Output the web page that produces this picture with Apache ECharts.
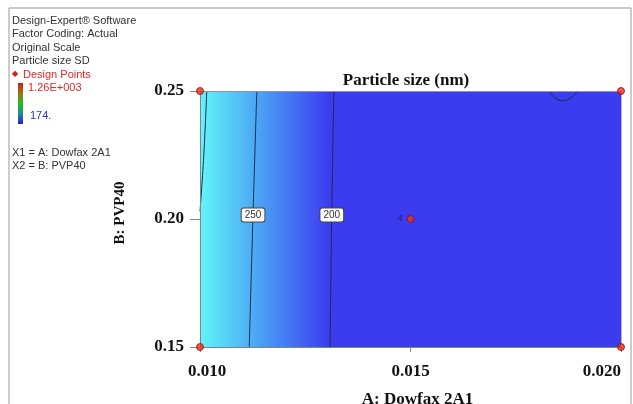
<!DOCTYPE html>
<html><head><meta charset="utf-8">
<script src="https://cdn.jsdelivr.net/npm/echarts@6/dist/echarts.min.js"></script>
<style>html,body{margin:0;padding:0;background:#fff}#c{width:633px;height:404px}</style>
</head><body><div id="c"></div>
<script>
// ---- data ----
const aTicks = [0.010, 0.015, 0.020];
const bTicks = [0.15, 0.20, 0.25];
const designPoints = [[0.010, 0.15], [0.010, 0.25], [0.020, 0.15], [0.020, 0.25], [0.015, 0.20]];
const centerReplicates = '4';
// response surface samples along A (particle size, nm)
const surfaceA = [0.0100, 0.0102, 0.0113, 0.0131, 0.0150, 0.0200];
const surfaceVal = [310, 300, 250, 200, 186, 174];
// contour lines
const contour300 = [[0.01016, 0.25], [0.01009, 0.225], [0.0100, 0.203]];
const contour250 = [[0.01135, 0.25], [0.01126, 0.202], [0.01117, 0.15]];
const contour200 = [[0.01318, 0.25], [0.01313, 0.202], [0.01309, 0.15]];
const contourArc = [[0.01831, 0.25], [0.01840, 0.2477], [0.01862, 0.2462], [0.01884, 0.2477], [0.01896, 0.25]];
const legendMax = '1.26E+003';
const legendMin = '174.';

// ---- colour mapping for the surface ----
const cStops = [[200, [59, 59, 240]], [250, [76, 168, 245]], [310, [98, 246, 248]]];
function colorOf(v) {
  if (v <= cStops[0][0]) return rgb(cStops[0][1]);
  for (let i = 1; i < cStops.length; i++) {
    if (v <= cStops[i][0]) {
      const t = (v - cStops[i - 1][0]) / (cStops[i][0] - cStops[i - 1][0]);
      const a = cStops[i - 1][1], b = cStops[i][1];
      return rgb([0, 1, 2].map(k => a[k] + (b[k] - a[k]) * t));
    }
  }
  return rgb(cStops[cStops.length - 1][1]);
}
function rgb(c) { return 'rgb(' + c.map(Math.round).join(',') + ')'; }

const aMin = aTicks[0], aMax = aTicks[aTicks.length - 1];
const bMin = bTicks[0], bMax = bTicks[bTicks.length - 1];

const chart = echarts.init(document.getElementById('c'));
const serif = 'Liberation Serif';
const sans = 'Liberation Sans';
const lineStyle = { color: '#1c3048', width: 1 };
function contourSeries(data, label) {
  return {
    type: 'line', data: data, smooth: true, symbol: 'none', z: 4,
    lineStyle: lineStyle, silent: true,
    markPoint: label ? {
      symbol: 'rect', symbolSize: 0,
      data: [{ coord: data[1], value: label }],
      label: {
        show: true, formatter: label, fontFamily: sans, fontSize: 10, color: '#333',
        backgroundColor: '#fff', borderColor: '#444', borderWidth: 1, borderRadius: 2,
        padding: [2, 3, 1, 3], offset: [0, 1]
      }
    } : undefined
  };
}

const legendGradient = new echarts.graphic.LinearGradient(0, 0, 0, 1, [
  { offset: 0, color: '#c81e1e' }, { offset: 0.25, color: '#a07010' },
  { offset: 0.5, color: '#20c020' }, { offset: 0.75, color: '#1a9090' }, { offset: 1, color: '#2020d0' }
]);
const txt = (x, y, s, color) => ({ type: 'text', left: x, top: y, style: { text: s, fill: color || '#333', font: '11px ' + sans } });
const bold = { fontFamily: serif, fontWeight: 'bold', fontSize: 17, color: '#111' };

chart.setOption({
  animation: false,
  title: {
    text: 'Particle size (nm)', left: 401, top: 67, textAlign: 'center',
    textStyle: bold
  },
  grid: { left: 200, right: 12, top: 91, bottom: 57, outerBoundsMode: 'none', containLabel: false },
  xAxis: [{
    type: 'value', min: aMin, max: aMax, interval: 0.005, z: 5,
    name: 'A: Dowfax 2A1', nameLocation: 'middle', nameGap: 44,
    nameTextStyle: Object.assign({ padding: [0, 0, 0, 14] }, bold),
    axisLine: { show: true, lineStyle: { color: '#7a8590' } },
    axisTick: { show: true, length: 5, lineStyle: { color: '#888' } },
    splitLine: { show: false },
    axisLabel: Object.assign({
      formatter: v => (v === aMin ? '{mn|' + v.toFixed(3) + '}' : v.toFixed(3)),
      rich: { mn: Object.assign({ padding: [0, 0, 0, 14] }, bold) },
      alignMaxLabel: 'right', margin: 16
    }, bold)
  }, {
    type: 'value', min: aMin, max: aMax, position: 'top', z: 5,
    axisLine: { show: true, lineStyle: { color: '#8a93a8' } },
    axisTick: { show: false }, axisLabel: { show: false }, splitLine: { show: false }
  }],
  yAxis: [{
    type: 'value', min: bMin, max: bMax, interval: 0.05, z: 5,
    name: 'B: PVP40', nameLocation: 'middle', nameGap: 72,
    nameTextStyle: Object.assign({}, bold, { fontSize: 15, padding: [0, 0, 0, 12] }),
    axisLine: { show: true, lineStyle: { color: '#7a8590' } },
    axisTick: { show: true, length: 10, lineStyle: { color: '#888' } },
    splitLine: { show: false },
    axisLabel: Object.assign({ formatter: v => v.toFixed(2), margin: 16 }, bold)
  }, {
    type: 'value', min: bMin, max: bMax, position: 'right', z: 5,
    axisLine: { show: true, lineStyle: { color: '#b0b4bc' } },
    axisTick: { show: false }, axisLabel: { show: false }, splitLine: { show: false }
  }],
  series: [
    {
      type: 'custom', z: 1, silent: true,
      data: [[aMin, bMax, aMax, bMin]],
      renderItem: function (params, api) {
        const p0 = api.coord([api.value(0), api.value(1)]);
        const p1 = api.coord([api.value(2), api.value(3)]);
        const stops = surfaceA.map((a, i) => ({ offset: (a - aMin) / (aMax - aMin), color: colorOf(surfaceVal[i]) }));
        return {
          type: 'rect',
          shape: { x: p0[0], y: p0[1], width: p1[0] - p0[0], height: p1[1] - p0[1] },
          style: { fill: new echarts.graphic.LinearGradient(0, 0, 1, 0, stops) }
        };
      }
    },
    contourSeries(contour300),
    contourSeries(contour250, '250'),
    contourSeries(contour200, '200'),
    contourSeries(contourArc),
    {
      type: 'scatter', data: designPoints, z: 10, clip: false, symbol: 'circle', symbolSize: 7,
      itemStyle: { color: '#e8321e', borderColor: '#8a1010', borderWidth: 1 },
      label: {
        show: true, position: 'left', distance: 4, fontFamily: sans, fontSize: 9, color: '#1a1a60',
        formatter: p => (p.dataIndex === 4 ? centerReplicates : '')
      }
    }
  ],
  graphic: [
    { type: 'rect', shape: { x: 9, y: 8, width: 622, height: 400 }, style: { fill: 'none', stroke: '#999', lineWidth: 1 }, z: -1 },
    txt(12, 15, 'Design-Expert® Software'),
    txt(12, 28.5, 'Factor Coding: Actual'),
    txt(12, 42, 'Original Scale'),
    txt(12, 55.5, 'Particle size SD'),
    { type: 'text', left: 12, top: 70, style: { text: '◆', fill: '#d02020', font: '8px ' + sans } },
    txt(23, 69, 'Design Points', '#e02828'),
    { type: 'rect', shape: { x: 18, y: 83, width: 5, height: 41 }, style: { fill: legendGradient } },
    txt(28, 82, legendMax, '#e02828'),
    txt(30, 110, legendMin, '#3030d0'),
    txt(12, 147, 'X1 = A: Dowfax 2A1'),
    txt(12, 160, 'X2 = B: PVP40')
  ]
});
</script></body></html>
